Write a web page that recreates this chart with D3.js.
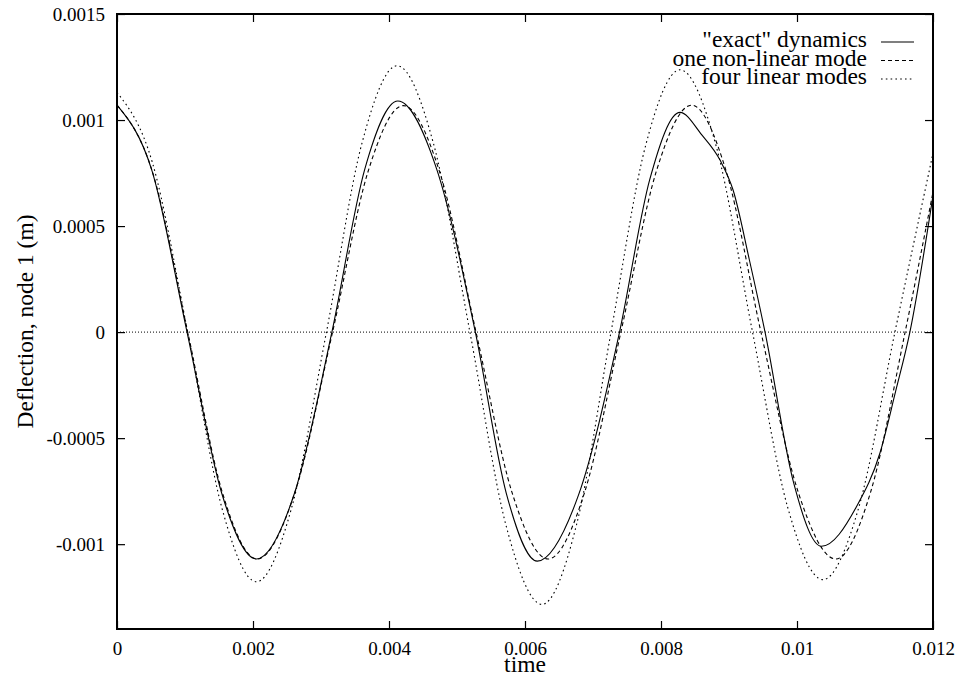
<!DOCTYPE html>
<html>
<head>
<meta charset="utf-8">
<script src="https://cdn.jsdelivr.net/npm/d3@7"></script>
<style>
  body { margin: 0; background: #fff; }
  svg { display: block; font-family: "Liberation Serif", "Times New Roman", serif; }
</style>
</head>
<body>
<script>
// tick values and labels
var xTicks = [0, 0.002, 0.004, 0.006, 0.008, 0.01, 0.012];
var xTickLabels = ["0", "0.002", "0.004", "0.006", "0.008", "0.01", "0.012"];
var yTicks = [-0.001, -0.0005, 0, 0.0005, 0.001, 0.0015];
var yTickLabels = ["-0.001", "-0.0005", "0", "0.0005", "0.001", "0.0015"];

var seriesNames = ['"exact" dynamics', "one non-linear mode", "four linear modes"];

// "exact" dynamics (solid)
var exactT = [0, 0.000515, 0.00103, 0.00154, 0.00205, 0.00261, 0.00316, 0.003645, 0.00413, 0.0047,
  0.00527, 0.005725, 0.00618, 0.006785, 0.00739, 0.007835, 0.00828, 0.0086, 0.00887, 0.00906,
  0.0093, 0.00953, 0.00995, 0.01036, 0.01088, 0.01122, 0.01145, 0.01166, 0.012];
var exactV = [0.00107, 0.00076, 0, -0.00076, -0.00107, -0.00076, 0, 0.00077, 0.00109, 0.00077,
  0, -0.00076, -0.00108, -0.00077, 0, 0.00072, 0.001036, 0.00093, 0.00081, 0.00067,
  0.00034, 0, -0.00071, -0.00101, -0.00082, -0.00057, -0.00028, 0, 0.000644];

// one non-linear mode (dashed)
var nonlinT = [0, 0.00052, 0.00104, 0.00155, 0.00206, 0.002615, 0.00317, 0.00369, 0.00421, 0.004745,
  0.00528, 0.00581, 0.00634, 0.006875, 0.00741, 0.00793, 0.00845, 0.00896, 0.00947, 0.01002,
  0.01057, 0.01108, 0.01159, 0.012];
var nonlinV = [0.00107, 0.000757, 0, -0.000757, -0.00107, -0.000757, 0, 0.000755, 0.001068, 0.000755,
  0, -0.000757, -0.00107, -0.000757, 0, 0.000757, 0.00107, 0.000757, 0, -0.000757,
  -0.00107, -0.000757, 0, 0.00066];

// four linear modes (dotted)
var linearT = [0, 0.00052, 0.00104, 0.001545, 0.00205, 0.002565, 0.00308, 0.0036, 0.00412, 0.004655,
  0.00519, 0.005718, 0.00625, 0.006758, 0.007265, 0.00777, 0.00828, 0.008813, 0.009346, 0.009862,
  0.01038, 0.01091, 0.01144, 0.012];
var linearV = [0.00113, 0.0008, 0, -0.000832, -0.001177, -0.000832, 0, 0.000888, 0.001256, 0.000888,
  0, -0.000908, -0.001284, -0.000908, 0, 0.000875, 0.001237, 0.000875, 0, -0.000825,
  -0.001167, -0.000825, 0, 0.000843];

var width = 959, height = 681;
var margin = {left: 117, right: 26, top: 14, bottom: 52};
var w = width - margin.left - margin.right;
var h = height - margin.top - margin.bottom;

var svg = d3.select("body").append("svg")
  .attr("width", width)
  .attr("height", height);

var g = svg.append("g").attr("transform", "translate(" + margin.left + "," + margin.top + ")");

var x = d3.scaleLinear().domain([0, 0.012]).range([0, w]);
var y = d3.scaleLinear().domain([-0.0014, 0.0015]).range([h, 0]);

function zip(ts, vs) {
  return ts.map(function (t, i) { return [t, vs[i]]; });
}

var series = [
  {name: seriesNames[0], data: zip(exactT, exactV), dash: null},
  {name: seriesNames[1], data: zip(nonlinT, nonlinV), dash: "4,3"},
  {name: seriesNames[2], data: zip(linearT, linearV), dash: "1.6,3.2"}
];

// axes, ticks pointing inward on all four sides
var fmtX = function (d, i) { return xTickLabels[i]; };
var fmtY = function (d, i) { return yTickLabels[i]; };

var xAxis = g.append("g").attr("transform", "translate(0," + h + ")")
  .call(d3.axisBottom(x).tickValues(xTicks).tickFormat(fmtX).tickSize(-8).tickPadding(12.5));
var xTop = g.append("g")
  .call(d3.axisTop(x).tickValues(xTicks).tickFormat("").tickSize(-8));
var yAxis = g.append("g")
  .call(d3.axisLeft(y).tickValues(yTicks).tickFormat(fmtY).tickSize(-8).tickPadding(12));
var yRight = g.append("g").attr("transform", "translate(" + w + ",0)")
  .call(d3.axisRight(y).tickValues(yTicks).tickFormat("").tickSize(-8));

g.selectAll(".domain").remove();
g.selectAll(".tick line").attr("stroke", "#000").attr("stroke-width", 1.2);
g.selectAll(".tick text")
  .attr("fill", "#000")
  .style("font-family", "'Liberation Serif', 'Times New Roman', serif")
  .style("font-size", "19px");

// zero line
g.append("line")
  .attr("x1", 0).attr("x2", w)
  .attr("y1", y(0)).attr("y2", y(0))
  .attr("stroke", "#000")
  .attr("stroke-width", 1)
  .attr("stroke-dasharray", "1,2");

var line = d3.line()
  .x(function (d) { return x(d[0]); })
  .y(function (d) { return y(d[1]); })
  .curve(d3.curveMonotoneX);

g.selectAll("path.series")
  .data(series)
  .enter()
  .append("path")
  .attr("class", "series")
  .attr("d", function (d) { return line(d.data); })
  .attr("fill", "none")
  .attr("stroke", "#000")
  .attr("stroke-width", 1.1)
  .attr("stroke-dasharray", function (d) { return d.dash; });

// frame
g.append("rect")
  .attr("x", 0).attr("y", 0)
  .attr("width", w).attr("height", h)
  .attr("fill", "none")
  .attr("stroke", "#000")
  .attr("stroke-width", 2);

// legend
var legend = g.selectAll("g.legend")
  .data(series)
  .enter()
  .append("g")
  .attr("class", "legend")
  .attr("transform", function (d, i) { return "translate(0," + (33 + i * 18.5) + ")"; });

legend.append("text")
  .attr("x", 750)
  .attr("text-anchor", "end")
  .style("font-size", "23.5px")
  .text(function (d) { return d.name; });

legend.append("line")
  .attr("x1", 764).attr("x2", 797)
  .attr("y1", -5).attr("y2", -5)
  .attr("stroke", "#000")
  .attr("stroke-width", 1.1)
  .attr("stroke-dasharray", function (d) { return d.dash; });

// axis titles
svg.append("text")
  .attr("x", margin.left + w / 2)
  .attr("y", 672)
  .attr("text-anchor", "middle")
  .style("font-size", "23.5px")
  .text("time");

svg.append("text")
  .attr("transform", "translate(33," + (margin.top + h / 2) + ") rotate(-90)")
  .attr("text-anchor", "middle")
  .style("font-size", "23.5px")
  .text("Deflection, node 1 (m)");
</script>
</body>
</html>
